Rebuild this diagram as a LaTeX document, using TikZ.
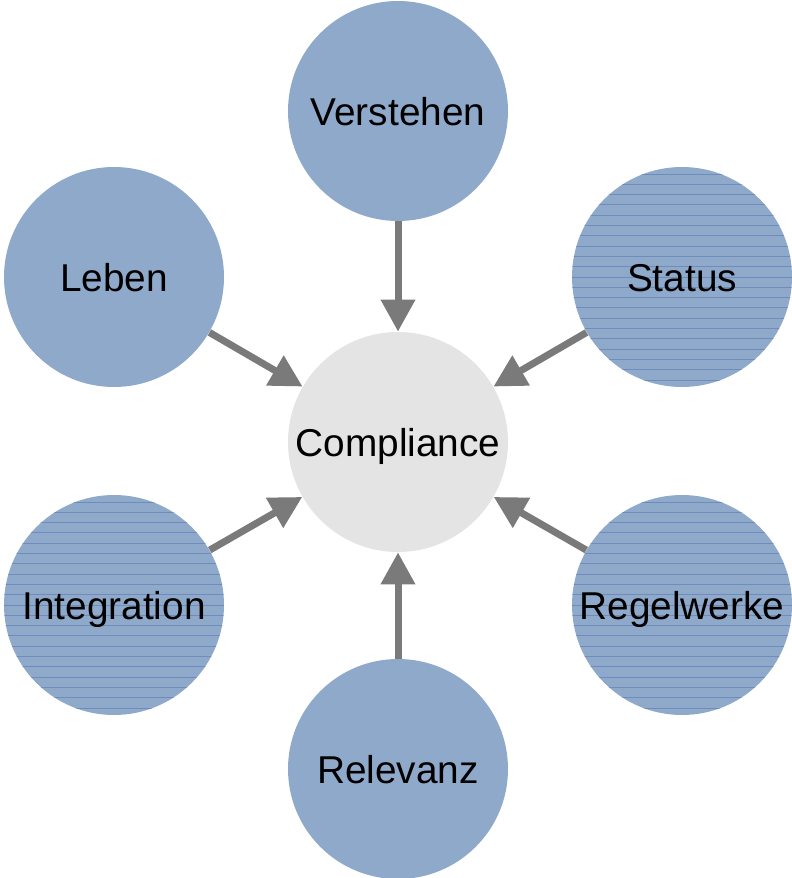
\documentclass[tikz,border=0pt]{standalone}
\usepackage{fontspec}
\setmainfont{Liberation Sans}
\usetikzlibrary{arrows.meta,calc}

\definecolor{petal}{RGB}{143,169,203}
\definecolor{petalline}{RGB}{111,140,187}
\definecolor{hubgray}{RGB}{228,228,228}
\definecolor{arrowgray}{RGB}{122,122,122}

\begin{document}
\begin{tikzpicture}[
        x=0.5pt, y=-0.5pt,
        petalnode/.style={
            circle, fill=petal, minimum size=110pt, inner sep=0pt,
            font=\fontsize{19.4pt}{22pt}\selectfont,
            text height=15pt, text depth=1pt
        },
        striped/.style={
            petalnode,
            path picture={
                \foreach \k in {-11,...,11}
                    \draw[petalline, line width=0.5pt]
                        ([yshift=\k*5.15pt]path picture bounding box.west) --
                        ([yshift=\k*5.15pt]path picture bounding box.east);
            }
        },
        hubnode/.style={
            circle, fill=hubgray, minimum size=110pt, inner sep=0pt,
            font=\fontsize{19.4pt}{22pt}\selectfont,
            text height=15pt, text depth=1pt
        },
        feed/.style={
            draw=arrowgray, line width=3.5pt,
            -{Triangle[width=16.5pt, length=16pt]}
        }
    ]
    
    \useasboundingbox (0,0) rectangle (792,878);
    
    % centre
    \node[hubnode] (compliance) at (398,442) {Compliance};
    
    % outer circles
    \node[petalnode] (verstehen) at (398,111) {Verstehen};
    \node[petalnode] (leben) at (114,277) {Leben};
    \node[striped] (status) at (682,277) {Status};
    \node[striped] (integration) at (114,605) {Integration};
    \node[striped] (regelwerke) at (682,605) {Regelwerke};
    \node[petalnode] (relevanz) at (398,769) {Relevanz};
    
    % arrows into the centre
    \foreach \src in {verstehen, leben, status, integration, regelwerke, relevanz}
        \draw[feed]
            (\src) --
            (compliance);

\end{tikzpicture}
\end{document}
